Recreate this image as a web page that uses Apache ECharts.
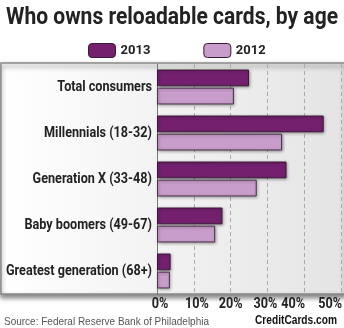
<!DOCTYPE html>
<html><head><meta charset="utf-8">
<script src="https://cdn.jsdelivr.net/npm/echarts@6/dist/echarts.min.js"></script>
<style>html,body{margin:0;padding:0;background:#fff}#c{width:344px;height:328px}</style>
</head><body><div id="c"></div>
<script>
const categories = ['Total consumers','Millennials (18-32)','Generation X (33-48)','Baby boomers (49-67)','Greatest generation (68+)'];
const values2013 = [25, 45.3, 35.2, 17.8, 3.7];
const values2012 = [20.9, 34, 27.1, 15.8, 3.5];
const tickValues = [0, 10, 20, 30, 40, 50];
const tickLabels = ['0%','10%','20%','30%','40%','50%'];
const seriesNames = ['2013','2012'];
const titleText = 'Who owns reloadable cards, by age';
const sourceText = 'Source: Federal Reserve Bank of Philadelphia';
const brandText = 'CreditCards.com';

const F = 'Roboto, "Liberation Sans", sans-serif';
const cv = document.createElement('canvas').getContext('2d');
function fit(text, font, target){ cv.font = font; return Math.min(1, target / cv.measureText(text).width); }

const chart = echarts.init(document.getElementById('c'));
chart.setOption({
  backgroundColor:'#fff',
  animation:false,
  legend:{top:43,left:88,padding:0,itemWidth:27,itemHeight:14,itemGap:53,
    textStyle:{fontFamily:F,fontWeight:'bold',fontSize:13,color:'#222'},
    itemStyle:{borderColor:'#3a1838',borderWidth:1},
    data:seriesNames},
  grid:{left:157,right:3,top:64,height:230,containLabel:false,outerBoundsMode:'none'},
  xAxis:{type:'value',min:0,max:50,interval:10,
    axisLine:{show:false},axisTick:{show:false},
    splitLine:{show:true,lineStyle:{type:[4,3],color:'#aaa',width:1}},
    axisLabel:{show:false}},
  yAxis:{type:'category',data:categories,inverse:true,
    axisLine:{show:true,lineStyle:{color:'#777',width:1}},axisTick:{show:false},
    axisLabel:{show:false}},
  series:[
    {name:seriesNames[0],type:'bar',data:values2013,barGap:'8%',barCategoryGap:'24%',
     itemStyle:{color:'#74206f',borderColor:'#3a1838',borderWidth:1,shadowColor:'rgba(0,0,0,0.35)',shadowBlur:3,shadowOffsetX:1,shadowOffsetY:1}},
    {name:seriesNames[1],type:'bar',data:values2012,
     itemStyle:{color:'#c99dcb',borderColor:'#4a3048',borderWidth:1,shadowColor:'rgba(0,0,0,0.35)',shadowBlur:3,shadowOffsetX:1,shadowOffsetY:1}}
  ]
});

// condensed-looking labels drawn at positions given by the chart's own axes
const labFont = 'bold 14px ' + F;
const labScale = fit('Greatest generation (68+)', labFont, 146);
const titleFont = 'bold 23px ' + F;
const titleScale = fit(titleText, titleFont, 332);
const srcFont = '11px "Liberation Sans", Arial, sans-serif';
const srcScale = fit(sourceText, srcFont, 205);
const brandFont = 'bold 12.5px "Liberation Sans", Arial, sans-serif';
const brandScale = fit(brandText, brandFont, 82);

const x0 = chart.convertToPixel({xAxisIndex:0}, 0);
const gfx = [
  {type:'rect',shape:{x:1,y:63,width:345,height:231},z:-10,
   style:{fill:new echarts.graphic.LinearGradient(0,0,1,0,[{offset:0,color:'#ffffff'},{offset:1,color:'#e4e4e4'}]),
     stroke:'#8a8a8a',lineWidth:1.5,shadowColor:'rgba(0,0,0,0.5)',shadowBlur:5,shadowOffsetY:3}},
  {type:'text',x:172,y:18,scaleX:titleScale,style:{text:titleText,font:titleFont,fill:'#222',align:'center',verticalAlign:'middle'}},
  {type:'text',x:4,y:322,scaleX:srcScale,style:{text:sourceText,font:srcFont,fill:'#555',align:'left',verticalAlign:'middle'}},
  {type:'text',x:337,y:321,scaleX:brandScale,style:{text:brandText,font:brandFont,fill:'#111',align:'right',verticalAlign:'middle'}}
];
categories.forEach(c => {
  const y = chart.convertToPixel({yAxisIndex:0}, c);
  gfx.push({type:'text',x:x0-5,y:y,scaleX:labScale,style:{text:c,font:labFont,fill:'#222',align:'right',verticalAlign:'middle'}});
});
const nudge = [3, 3, 0, -2, 1, 1];
tickValues.forEach((v,i) => {
  const right = i >= tickValues.length - 2;
  const x = chart.convertToPixel({xAxisIndex:0}, v) + nudge[i];
  gfx.push({type:'text',x:x,y:304,scaleX:labScale,style:{text:tickLabels[i],font:labFont,fill:'#222',align:right?'right':'center',verticalAlign:'middle'}});
});
chart.setOption({graphic:gfx});
</script></body></html>
